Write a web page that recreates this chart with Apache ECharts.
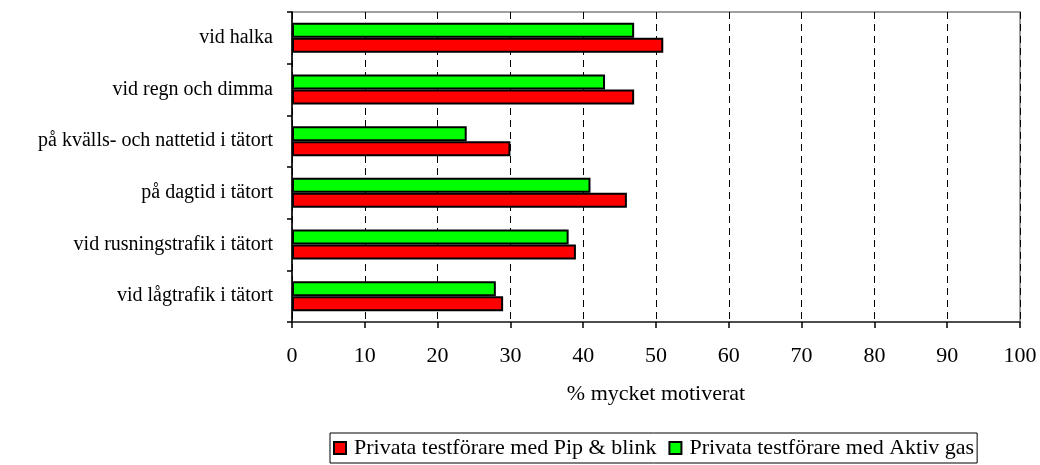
<!DOCTYPE html>
<html>
<head>
<meta charset="utf-8">
<script src="https://cdn.jsdelivr.net/npm/echarts@6/dist/echarts.min.js"></script>
<style>html,body{margin:0;padding:0;background:#fff}#c{width:1040px;height:465px}</style>
</head>
<body>
<div id="c"></div>
<script>
var categories = ["vid halka", "vid regn och dimma", "på kvälls- och nattetid i tätort", "på dagtid i tätort", "vid rusningstrafik i tätort", "vid lågtrafik i tätort"];
var pipBlink = [51, 47, 30, 46, 39, 29];
var aktivGas = [47, 43, 24, 41, 38, 28];
var seriesNames = ["Privata testförare med Pip & blink", "Privata testförare med Aktiv gas"];
var xTicks = [0, 10, 20, 30, 40, 50, 60, 70, 80, 90, 100];
var axisName = "% mycket motiverat";

var font = "'Liberation Serif', 'Times New Roman', serif";
var chart = echarts.init(document.getElementById('c'), null, {renderer: 'canvas'});
chart.setOption({
  animation: false,
  textStyle: {fontFamily: font, color: '#000'},
  grid: {left: 292, right: 20, top: 12, bottom: 143, show: true, borderColor: '#808080', borderWidth: 1.5, containLabel: false},
  legend: {
    left: 330, top: 433,
    data: seriesNames,
    itemWidth: 12, itemHeight: 12, itemGap: 12,
    borderColor: '#000', borderWidth: 1, borderRadius: 0,
    padding: [4, 3, 4, 3],
    textStyle: {fontFamily: font, fontSize: 22, color: '#000', padding: [0, 0, 0, 3]},
    icon: 'rect'
  },
  xAxis: {
    type: 'value', min: xTicks[0], max: xTicks[xTicks.length - 1], interval: 10,
    name: axisName, nameLocation: 'middle', nameGap: 61,
    nameTextStyle: {fontFamily: font, fontSize: 22, color: '#000'},
    axisLine: {show: true, lineStyle: {color: '#333', width: 1.5}},
    axisTick: {show: true, length: 6, lineStyle: {color: '#000', width: 1.5}},
    axisLabel: {fontFamily: font, fontSize: 22, color: '#000', margin: 23},
    splitLine: {show: true, lineStyle: {color: '#000', type: [7, 5], width: 1}}
  },
  yAxis: {
    type: 'category', data: categories, inverse: true,
    axisLine: {show: true, lineStyle: {color: '#000', width: 1.5}},
    axisTick: {show: true, length: 5, lineStyle: {color: '#000', width: 1.5}},
    axisLabel: {fontFamily: font, fontSize: 20, color: '#000', margin: 19},
    splitLine: {show: false}
  },
  series: [
    {name: seriesNames[1], type: 'bar', data: aktivGas, barWidth: 15, barGap: '0%',
     itemStyle: {color: '#00ff00', borderColor: '#000', borderWidth: 2}},
    {name: seriesNames[0], type: 'bar', data: pipBlink, barWidth: 15, barGap: '0%',
     itemStyle: {color: '#ff0000', borderColor: '#000', borderWidth: 2}}
  ]
});
</script>
</body>
</html>
